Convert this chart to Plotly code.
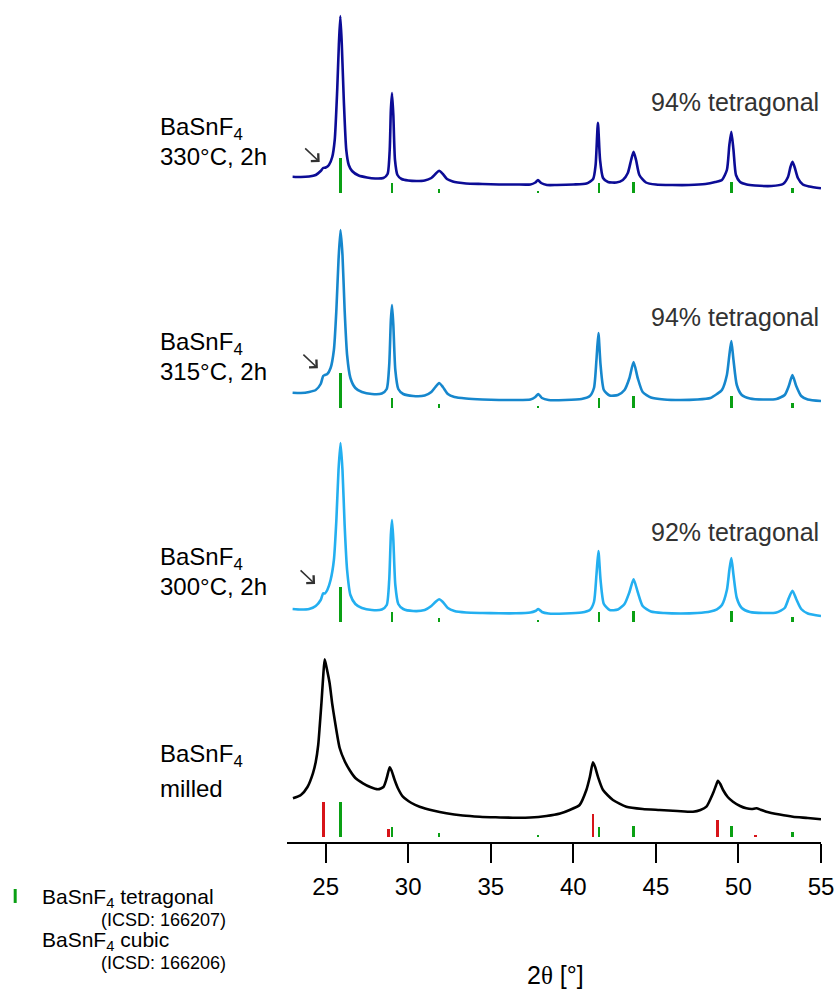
import plotly.graph_objects as go

# ---------------- data ----------------
# offsets of the stacked patterns (a.u.)
offsets = {"330": 644, "315": 429.5, "300": 215, "milled": 0}

# 330 °C, 2h  (2theta, intensity)
tt_330 = [23.0, 23.5, 24.0, 24.4, 24.7, 24.85, 25.0, 25.2, 25.4, 25.55, 25.7, 25.8, 25.89, 25.98, 26.1,
          26.25, 26.4, 26.6, 27.0, 27.5, 28.0, 28.5, 28.75, 28.88, 28.95, 29.02, 29.1, 29.2, 29.35, 29.6,
          30.0, 30.5, 31.0, 31.4, 31.65, 31.87, 32.1, 32.35, 32.7, 33.0, 33.5, 34.5, 35.5, 36.5, 37.4,
          37.7, 37.86, 38.05, 38.4, 39.0, 40.0, 40.8, 41.2, 41.35, 41.49, 41.62, 41.8, 42.1, 42.6, 43.0,
          43.3, 43.5, 43.65, 43.8, 44.0, 44.4, 45.0, 46.0, 47.0, 48.0, 48.6, 49.0, 49.3, 49.45, 49.57,
          49.7, 49.85, 50.1, 50.5, 51.0, 52.0, 52.7, 53.0, 53.15, 53.27, 53.4, 53.6, 53.9, 54.3, 55.0]
I_330 = [16.3, 16, 16.5, 18, 22, 25, 25.5, 28, 36, 53, 103, 148, 177, 148, 93,
         43, 28, 22, 17.5, 15.5, 14.5, 15, 19, 43, 83, 100, 78, 33, 18, 14,
         12.5, 12, 12.5, 15, 19, 22.3, 19, 14, 11.5, 10.5, 9.5, 9, 8.5, 8.5, 8.5,
         10.5, 13, 10, 8, 8, 8.5, 9.5, 14, 28, 70.3, 33, 15, 11, 10.5, 13,
         20, 33, 41.3, 33, 18, 10.5, 8.5, 8, 8, 9, 11, 13, 23, 48, 61.3,
         43, 18, 11, 8.5, 7.5, 7, 9, 16, 26, 31.3, 26, 15, 8.5, 6.5, 4.7]

# 315 °C, 2h
tt_315 = [23.0, 23.5, 24.0, 24.4, 24.7, 24.85, 24.95, 25.1, 25.3, 25.5, 25.65, 25.78, 25.9, 26.02, 26.15,
          26.3, 26.5, 26.8, 27.2, 27.8, 28.4, 28.7, 28.85, 28.95, 29.02, 29.1, 29.22, 29.4, 29.7, 30.3,
          31.0, 31.4, 31.65, 31.87, 32.1, 32.4, 32.8, 33.5, 34.5, 35.5, 36.5, 37.4, 37.7, 37.88, 38.1,
          38.5, 39.5, 40.5, 41.0, 41.25, 41.4, 41.52, 41.65, 41.85, 42.2, 42.7, 43.1, 43.4, 43.65, 43.9,
          44.2, 44.7, 45.5, 46.5, 47.5, 48.3, 48.7, 49.0, 49.3, 49.45, 49.57, 49.7, 49.9, 50.2, 50.7,
          51.5, 52.3, 52.8, 53.05, 53.27, 53.5, 53.8, 54.2, 55.0]
I_315 = [14.8, 14.5, 15.5, 17.5, 23.5, 31.5, 32.5, 33.5, 39.5, 57.5, 97.5, 147.5, 177.5, 152.5, 97.5,
         52.5, 29.5, 19.5, 15.5, 13.5, 14, 18.5, 42.5, 87.5, 102.5, 82.5, 37.5, 18.5, 13.5, 11.5,
         12, 15.5, 20.5, 24.5, 20.5, 13.5, 10.5, 9, 8, 7.5, 7.5, 8, 10.5, 13.5, 9.5,
         7.5, 7.5, 8.5, 11.5, 19.5, 47.5, 74.5, 42.5, 17.5, 12, 12.5, 17.5, 29.5, 45.5, 29.5,
         15.5, 10, 8, 7.5, 8, 9.5, 13.5, 17.5, 32.5, 52.5, 66.5, 47.5, 22.5, 12.5, 9,
         8, 8.5, 12.5, 21.5, 32.5, 21.5, 11.5, 8, 6.5]

# 300 °C, 2h
tt_300 = tt_315
I_300 = [13, 12.5, 13, 16, 22, 28.7, 28.5, 32, 42, 62, 102, 152, 179, 152, 97,
         52, 27, 18, 14, 12, 12.5, 17, 42, 87, 102, 82, 37, 18, 13, 11,
         12, 16, 20, 22.7, 20, 14, 11, 9.5, 9, 8.7, 8.7, 9.5, 11, 13, 10,
         8.5, 8.5, 9.5, 12, 20, 47, 71, 42, 18, 12, 12.5, 18, 30, 42.7, 30,
         16, 10.5, 9, 8.5, 9, 10.5, 12.7, 17, 32, 52, 64, 47, 24, 14, 10,
         9, 9.5, 14, 24, 31.3, 23, 13, 8.5, 6]

# milled
tt_milled = [23.02, 23.5, 23.9, 24.23, 24.4, 24.55, 24.64, 24.75, 24.85, 24.94, 25.05, 25.24, 25.4, 25.55,
             25.85, 26.15, 26.45, 26.8, 27.26, 27.7, 28.17, 28.5, 28.7, 28.88, 29.0, 29.18, 29.4, 29.68,
             30.2, 30.69, 31.5, 32.31, 33.3, 34.33, 35.3, 36.34, 37.4, 38.37, 39.2, 39.78, 40.38, 40.79,
             41.0, 41.19, 41.32, 41.49, 41.8, 42.4, 43.21, 44.2, 45.23, 46.3, 47.25, 47.7, 48.06, 48.46,
             48.65, 48.76, 48.9, 49.07, 49.35, 49.67, 50.1, 50.48, 50.8, 51.09, 51.35, 51.69, 52.5, 53.3,
             54.2, 55.0]
I_milled = [38.7, 42, 50, 63.7, 75, 92, 110.3, 135, 160, 177.7, 170, 154, 133, 117,
            89, 76, 67, 59, 53.7, 50, 47.7, 50, 59, 69.7, 66, 57, 48, 40.3,
            34, 30.3, 26.5, 23.7, 21.5, 20.3, 19.7, 19.3, 19.5, 21, 23.5, 27, 32, 47,
            60, 74.7, 70, 60.3, 47, 37, 30.3, 28, 27, 26, 25.3, 27, 30.3, 43.7,
            52, 56.3, 53, 47, 40, 35.3, 31, 28.7, 28, 28.7, 27.3, 25.3, 22.5, 20.3,
            19, 17.7]

# reference patterns (position, relative height)
tet_pos = [25.89, 29.02, 31.87, 37.86, 41.55, 43.65, 49.6, 53.27]
tet_int = [35, 10, 4, 1.5, 10, 11.5, 11.5, 5]
cub_pos = [24.86, 28.80, 41.19, 48.72, 51.05]
cub_int = [35, 7.7, 23.3, 16.7, 1.7]

xticks = [25, 30, 35, 40, 45, 50, 55]

# ---------------- styling ----------------
FONT = "Liberation Sans, Arial, sans-serif"
col = {"330": "rgb(12,12,150)", "315": "rgb(22,135,205)", "300": "rgb(35,175,240)", "milled": "black"}
GREEN = "rgb(10,160,20)"
RED = "rgb(215,20,25)"

fig = go.Figure()

series = [("330", tt_330, I_330), ("315", tt_315, I_315), ("300", tt_300, I_300), ("milled", tt_milled, I_milled)]
for key, xs, ys in series:
    fig.add_trace(go.Scatter(x=xs, y=[v + offsets[key] for v in ys], mode="lines",
                             line=dict(color=col[key], width=2.6, shape="spline", smoothing=0.6),
                             showlegend=False, hoverinfo="skip"))

# tetragonal reference ticks under every pattern
for key in ["330", "315", "300", "milled"]:
    fig.add_trace(go.Bar(x=tet_pos, y=tet_int, base=[offsets[key]] * len(tet_pos), width=0.17,
                         marker=dict(color=GREEN, line=dict(width=0)), showlegend=False, hoverinfo="skip"))
# cubic reference ticks under the milled pattern
fig.add_trace(go.Bar(x=cub_pos, y=cub_int, base=[offsets["milled"]] * len(cub_pos), width=0.17,
                     marker=dict(color=RED, line=dict(width=0)), showlegend=False, hoverinfo="skip"))

ann = []
# left sample labels (y in data units)
labels = [("BaSnF<sub>4</sub>", 709), ("330°C, 2h", 681),
          ("BaSnF<sub>4</sub>", 494), ("315°C, 2h", 466),
          ("BaSnF<sub>4</sub>", 279), ("300°C, 2h", 251),
          ("BaSnF<sub>4</sub>", 82), ("milled", 49)]
for txt, yv in labels:
    ann.append(dict(x=-0.2416, xref="paper", y=yv, yref="y", text=txt, showarrow=False,
                    xanchor="left", yanchor="middle", align="left",
                    font=dict(family=FONT, size=24, color="black")))
# right phase fractions
for txt, yv in [("94% tetragonal", 735), ("94% tetragonal", 520), ("92% tetragonal", 305)]:
    ann.append(dict(x=1.0, xref="paper", y=yv, yref="y", text=txt, showarrow=False,
                    xanchor="right", yanchor="middle",
                    font=dict(family=FONT, size=25, color="rgb(50,50,50)")))
# arrows pointing to shoulder
for xa, ya in [(24.64, 675), (24.53, 468.7), (24.36, 253)]:
    ann.append(dict(x=xa, y=ya, xref="x", yref="y", text="", showarrow=True, ax=-16, ay=-15,
                    arrowhead=4, arrowsize=1.3, arrowwidth=1.6, arrowcolor="rgb(50,50,50)"))
# legend text
ann += [
    dict(x=-0.462, xref="paper", y=-0.066, yref="paper", text="BaSnF<sub>4</sub> tetragonal", showarrow=False,
         xanchor="left", yanchor="middle", font=dict(family=FONT, size=21, color="black")),
    dict(x=-0.352, xref="paper", y=-0.0925, yref="paper", text="(ICSD: 166207)", showarrow=False,
         xanchor="left", yanchor="middle", font=dict(family=FONT, size=18, color="black")),
    dict(x=-0.462, xref="paper", y=-0.117, yref="paper", text="BaSnF<sub>4</sub> cubic", showarrow=False,
         xanchor="left", yanchor="middle", font=dict(family=FONT, size=21, color="black")),
    dict(x=-0.352, xref="paper", y=-0.1435, yref="paper", text="(ICSD: 166206)", showarrow=False,
         xanchor="left", yanchor="middle", font=dict(family=FONT, size=18, color="black")),
    dict(x=0.502, xref="paper", y=-0.158, yref="paper",
         text="2<span style='font-family:Liberation Serif, Times New Roman, serif'>θ</span> [°]",
         showarrow=False, xanchor="center", yanchor="middle", font=dict(family=FONT, size=25, color="black")),
]

shapes = [dict(type="line", xref="paper", yref="paper", x0=-0.509, x1=-0.509, y0=-0.0558, y1=-0.0724,
               line=dict(color=GREEN, width=3))]

fig.update_layout(
    width=838, height=990, margin=dict(l=287, r=17, t=0, b=148),
    paper_bgcolor="white", plot_bgcolor="white", barmode="overlay", bargap=0,
    showlegend=False, annotations=ann, shapes=shapes,
    xaxis=dict(range=[22.66, 55.0], showline=True, linecolor="black", linewidth=2, ticks="outside",
               ticklen=19, tickwidth=2, tickcolor="black", tickvals=xticks, showgrid=False, zeroline=False,
               ticklabelstandoff=3, tickfont=dict(family=FONT, size=24, color="black")),
    yaxis=dict(range=[-5, 837], visible=False, showgrid=False, zeroline=False),
)

fig.write_html("out.html")
